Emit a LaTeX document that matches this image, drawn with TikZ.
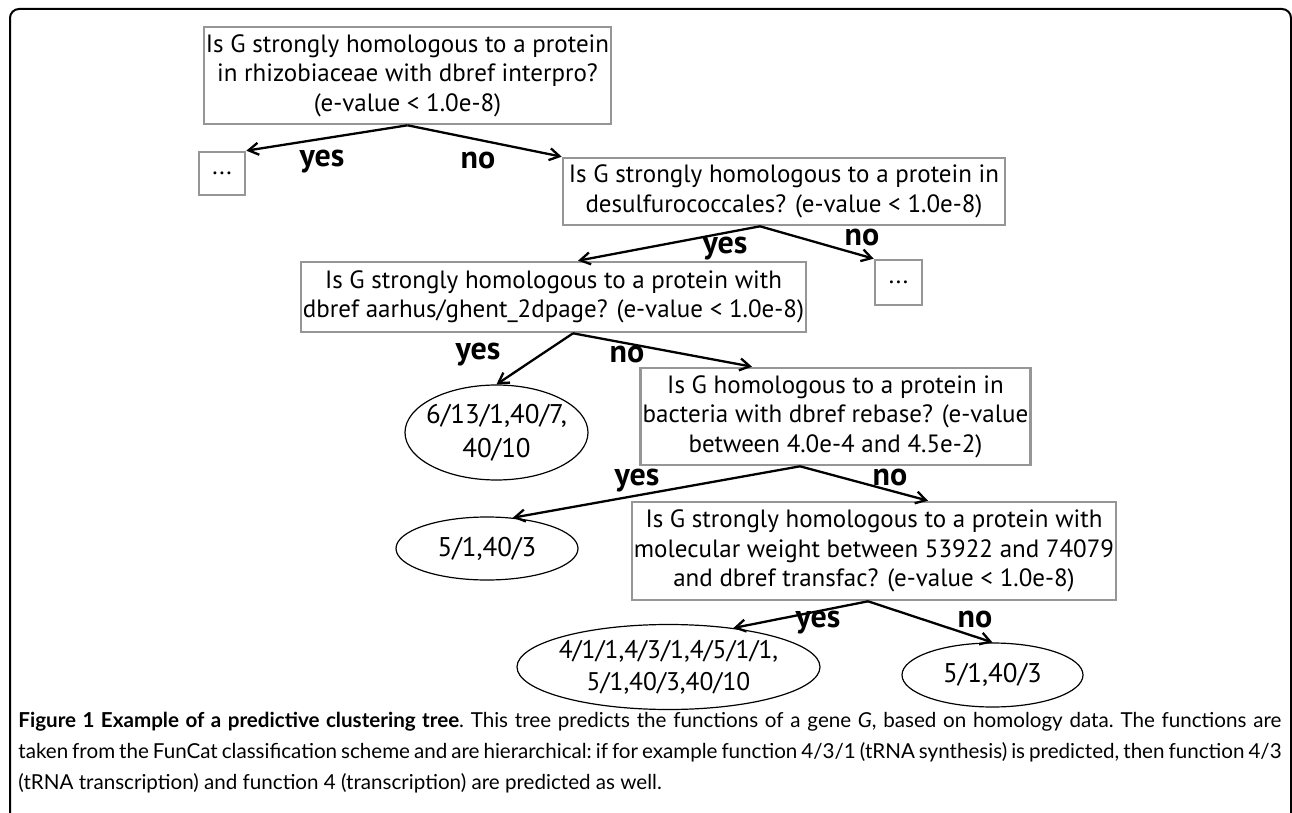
\documentclass[tikz,border=0pt]{standalone}
\usepackage{fontspec}
\setmainfont{PT Sans}
\newfontfamily\capfont{Lato}
\usetikzlibrary{arrows.meta,shapes.geometric}
\definecolor{boxgray}{RGB}{150,150,150}

\begin{document}
\begin{tikzpicture}[x=0.5pt,y=-0.5pt,
    qbox/.style={draw=boxgray,line width=1.3pt,fill=white,align=center,inner sep=1pt,font=\fontsize{12.5}{14.75}\selectfont},
    dots/.style={draw=boxgray,line width=1.3pt,fill=white,inner sep=0pt,font=\fontsize{12.5}{14.75}\selectfont},
    leaf/.style={draw,ellipse,line width=0.6pt,inner sep=-6pt,align=center,font=\fontsize{13.5}{17}\selectfont},
    lab/.style={font=\fontsize{16}{18}\selectfont\bfseries},
    arr/.style={-{Straight Barb[length=5pt,width=6pt]},line width=1.15pt}]
    \useasboundingbox (0,0) rectangle (1292,813);
    \draw[line width=1pt,rounded corners=4.5pt] (10,830) -- (10,9) -- (1291,9) -- (1291,830);
    % questions
    \node[qbox,minimum width=202.5pt,minimum height=48.5pt] (r) at (407.5,75.5) {Is G strongly homologous to a protein\\in rhizobiaceae with dbref interpro?\\(e-value < 1.0e-8)};
    \node[dots,minimum width=23pt,minimum height=21.5pt] (d1) at (222,173.5) {...};
    \node[qbox,minimum width=221pt,minimum height=33.5pt] (b) at (784,191.5) {Is G strongly homologous to a protein in\\desulfurococcales? (e-value < 1.0e-8)};
    \node[dots,minimum width=23.5pt,minimum height=22.5pt] (d2) at (898.5,282.5) {...};
    \node[qbox,minimum width=241.5pt,minimum height=35pt] (c) at (553.5,297) {Is G strongly homologous to a protein with\\dbref aarhus/ghent\_2dpage? (e-value < 1.0e-8)};
    \node[qbox,minimum width=192.5pt,minimum height=48.5pt] (d) at (835.5,416.5) {Is G homologous to a protein in\\bacteria with dbref rebase? (e-value\\between 4.0e-4 and 4.5e-2)};
    \node[qbox,minimum width=231pt,minimum height=49pt] (e) at (874,551) {Is G strongly homologous to a protein with\\molecular weight between 53922 and 74079\\and dbref transfac? (e-value < 1.0e-8)};
    % leaves
    \node[leaf,minimum width=91.5pt,minimum height=47.5pt] (l1) at (496.5,432.5) {6/13/1,40/7,\\40/10};
    \node[leaf,minimum width=91pt,minimum height=31.5pt] (l2) at (487,548.5) {5/1,40/3};
    \node[leaf,minimum width=151.5pt,minimum height=42.5pt,font=\fontsize{12.75}{16}\selectfont] (l3) at (668.5,667) {4/1/1,4/3/1,4/5/1/1,\\5/1,40/3,40/10};
    \node[leaf,minimum width=90.5pt,minimum height=32pt] (l4) at (992.5,675) {5/1,40/3};
    % edges
    \draw[arr] (r.south) -- (d1.north east);
    \draw[arr] (r.south) -- (b.north west);
    \draw[arr] ([xshift=-12pt]b.south) -- ([xshift=12.25pt]c.north);
    \draw[arr] ([xshift=-12pt]b.south) -- (d2.north west);
    \draw[arr] ([xshift=9.75pt]c.south) -- (l1.north);
    \draw[arr] ([xshift=9.75pt]c.south) -- ([xshift=-41.75pt]d.north);
    \draw[arr] ([xshift=-17.75pt]d.south) -- (l2.50);
    \draw[arr] ([xshift=-17.75pt]d.south) -- ([xshift=27pt]e.north);
    \draw[arr] ([xshift=-3pt]e.south) -- (l3.31);
    \draw[arr] ([xshift=-3pt]e.south) -- (l4.north);
    % answers
    \node[lab] (y1) at (322,162) {yes};
    \node[lab] (n1) at (478,161) {no};
    \node[lab] (y2) at (725,249) {yes};
    \node[lab] (n2) at (862,237) {no};
    \node[lab] (y3) at (478,355) {yes};
    \node[lab] (n3) at (627,354) {no};
    \node[lab] (y4) at (637,481) {yes};
    \node[lab] (n4) at (890,477) {no};
    \node[lab] (y5) at (818,623) {yes};
    \node[lab] (n5) at (975,619) {no};
    % caption
    \node[anchor=north west,inner sep=0pt,text width=631.5pt,align=justify,font=\capfont\fontsize{10.3}{15.5}\selectfont] (cap) at (18,712) {\frenchspacing\textbf{Figure 1 Example of a predictive clustering tree}. This tree predicts the functions of a gene \textit{G}, based on homology data. The functions are\linebreak taken from the FunCat classification scheme and are hierarchical: if for example function 4/3/1 (tRNA synthesis) is predicted, then function 4/3\linebreak (tRNA transcription) and function 4 (transcription) are predicted as well.\par};
\end{tikzpicture}
\end{document}
